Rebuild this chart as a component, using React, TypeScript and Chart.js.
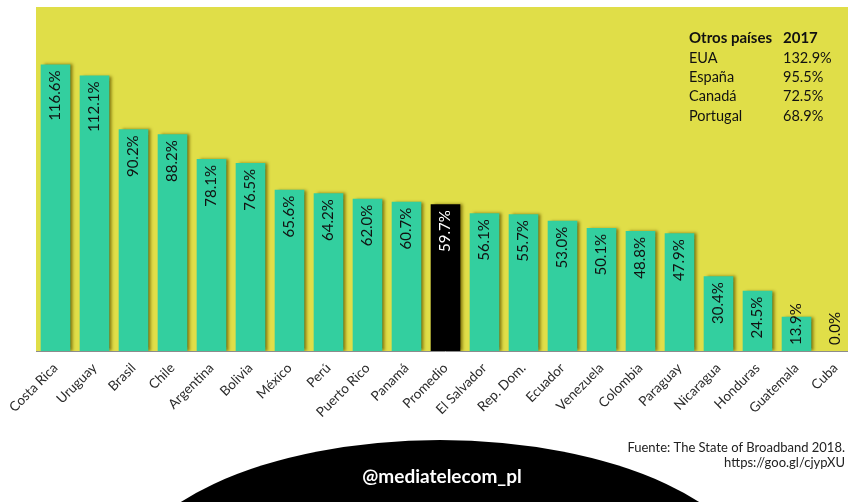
import React, { useEffect, useRef } from "react";
import { Chart, registerables } from "chart.js";

Chart.register(...registerables);

const categories = [
  "Costa Rica", "Uruguay", "Brasil", "Chile", "Argentina", "Bolivia", "México",
  "Perú", "Puerto Rico", "Panamá", "Promedio", "El Salvador", "Rep. Dom.",
  "Ecuador", "Venezuela", "Colombia", "Paraguay", "Nicaragua", "Honduras",
  "Guatemala", "Cuba",
];
const values = [
  116.6, 112.1, 90.2, 88.2, 78.1, 76.5, 65.6, 64.2, 62.0, 60.7, 59.7, 56.1,
  55.7, 53.0, 50.1, 48.8, 47.9, 30.4, 24.5, 13.9, 0.0,
];
const highlightCategory = "Promedio";
const tableHeader = ["Otros países", "2017"];
const otherCountries = ["EUA", "España", "Canadá", "Portugal"];
const otherValues = [132.9, 95.5, 72.5, 68.9];
const sourceLines = ["Fuente: The State of Broadband 2018.", "https://goo.gl/cjypXU"];
const handle = "@mediatelecom_pl";

const FONT = "Lato, 'Open Sans', sans-serif";
const YELLOW = "#E0DE48";
const GREEN = "#33CF9F";

const decorPlugin = {
  id: "decor",
  beforeDraw(chart: any) {
    const { ctx, chartArea } = chart;
    ctx.save();
    ctx.fillStyle = YELLOW;
    ctx.fillRect(chartArea.left, chartArea.top, chartArea.right - chartArea.left, chartArea.bottom - chartArea.top);
    ctx.restore();
  },
  beforeDatasetDraw(chart: any) {
    const ctx = chart.ctx;
    ctx.save();
    ctx.shadowColor = "rgba(110, 95, 0, 0.8)";
    ctx.shadowOffsetX = 3;
    ctx.shadowOffsetY = 0;
    ctx.shadowBlur = 3;
  },
  afterDatasetDraw(chart: any) {
    chart.ctx.restore();
  },
  afterDatasetsDraw(chart: any) {
    const { ctx, chartArea } = chart;
    ctx.save();
    ctx.strokeStyle = "#8c8c8c";
    ctx.lineWidth = 1;
    ctx.beginPath();
    ctx.moveTo(chartArea.left, Math.round(chartArea.bottom) + 0.5);
    ctx.lineTo(chartArea.right, Math.round(chartArea.bottom) + 0.5);
    ctx.stroke();

    const meta = chart.getDatasetMeta(0);
    ctx.font = `15px ${FONT}`;
    ctx.textBaseline = "middle";
    meta.data.forEach((bar: any, i: number) => {
      const txt = values[i].toFixed(1) + "%";
      const w = ctx.measureText(txt).width;
      const top = bar.y;
      const base = bar.base;
      ctx.fillStyle = categories[i] === highlightCategory ? "#ffffff" : "#111111";
      ctx.save();
      if (top + 6 + w > base - 6) {
        ctx.translate(bar.x, base - 6);
        ctx.rotate(-Math.PI / 2);
        ctx.textAlign = "left";
      } else {
        ctx.translate(bar.x, top + 6);
        ctx.rotate(-Math.PI / 2);
        ctx.textAlign = "right";
      }
      ctx.fillText(txt, 0, 0);
      ctx.restore();
    });

    ctx.fillStyle = "#111111";
    ctx.textAlign = "left";
    ctx.textBaseline = "alphabetic";
    ctx.font = `bold 15px ${FONT}`;
    ctx.fillText(tableHeader[0], 689, 43);
    ctx.fillText(tableHeader[1], 783, 43);
    ctx.font = `14.5px ${FONT}`;
    otherCountries.forEach((c, i) => {
      const y = 63 + i * 19.2;
      ctx.fillText(c, 689, y);
      ctx.fillText(otherValues[i].toFixed(1) + "%", 783, y);
    });
    ctx.restore();
  },
  afterDraw(chart: any) {
    const ctx = chart.ctx;
    ctx.save();
    ctx.fillStyle = "#000000";
    ctx.beginPath();
    ctx.ellipse(440, 590, 320, 150, 0, 0, Math.PI * 2);
    ctx.fill();
    ctx.fillStyle = "#ffffff";
    ctx.font = `bold 19px ${FONT}`;
    ctx.textAlign = "center";
    ctx.textBaseline = "alphabetic";
    ctx.fillText(handle, 442, 483);

    ctx.fillStyle = "#222222";
    ctx.font = `13px ${FONT}`;
    ctx.textAlign = "right";
    ctx.fillText(sourceLines[0], 845, 452);
    ctx.fillText(sourceLines[1], 845, 467);
    ctx.restore();
  },
};

export default function App() {
  const ref = useRef<HTMLCanvasElement>(null);
  useEffect(() => {
    if (!ref.current) return;
    const chart = new Chart(ref.current, {
      type: "bar",
      data: {
        labels: categories,
        datasets: [
          {
            data: values,
            backgroundColor: categories.map((c) => (c === highlightCategory ? "#000000" : GREEN)),
            borderWidth: 0,
            barPercentage: 0.76,
            categoryPercentage: 1,
          },
        ],
      },
      options: {
        responsive: false,
        animation: false,
        devicePixelRatio: 1,
        layout: { padding: { left: 36, top: 7, right: 1, bottom: 0 } },
        plugins: { legend: { display: false }, tooltip: { enabled: false } },
        scales: {
          x: {
            grid: { display: false, drawTicks: false },
            border: { display: false },
            ticks: {
              maxRotation: 45,
              minRotation: 45,
              autoSkip: false,
              padding: 9,
              color: "#2a2a2a",
              font: { family: FONT, size: 13.5 },
            },
            afterFit(scale: any) {
              scale.height = 151;
            },
          },
          y: {
            display: false,
            min: 0,
            max: 140,
          },
        },
      },
      plugins: [decorPlugin],
    });
    return () => chart.destroy();
  }, []);
  return (
    <div style={{ position: "fixed", left: 0, top: 0, width: 848, height: 502, overflow: "hidden", background: "#fff" }}>
      <canvas ref={ref} width={856} height={502} style={{ display: "block" }} />
    </div>
  );
}
